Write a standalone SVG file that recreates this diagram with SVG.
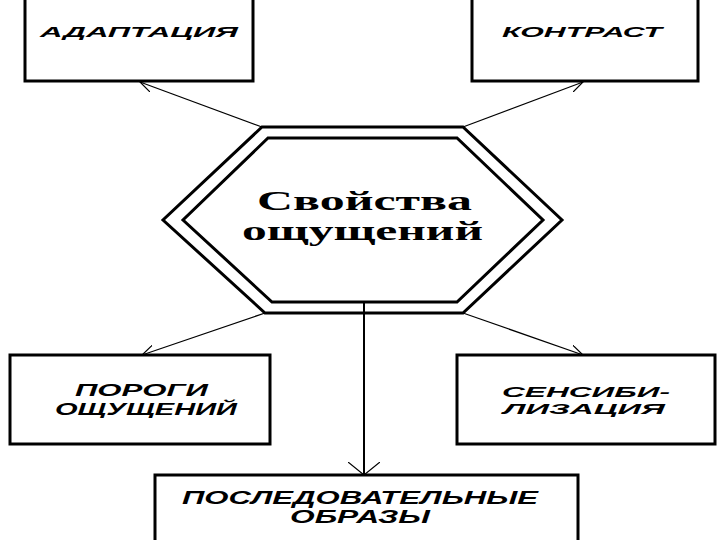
<svg xmlns="http://www.w3.org/2000/svg" width="720" height="540" viewBox="0 0 720 540">
<defs>
<style>
.box{fill:#fff;stroke:#000;stroke-width:3}
.hex{fill:none;stroke:#000;stroke-width:3;stroke-linejoin:miter}
.lbl{font-family:"Liberation Sans",Arial,sans-serif;font-weight:bold;font-style:italic;fill:#000}
.ctr{font-family:"Liberation Serif","Times New Roman",serif;font-weight:bold;fill:#000}
.con{stroke:#000;stroke-width:1.2;fill:none}
</style>
<marker id="ah" viewBox="0 0 14 12" refX="13" refY="6" markerWidth="14" markerHeight="12" markerUnits="userSpaceOnUse" orient="auto">
<path d="M0,0 L13,6 L0,12" fill="none" stroke="#000" stroke-width="1.2"/>
</marker>
<marker id="ahw" viewBox="0 0 14 32" refX="13" refY="16" markerWidth="14" markerHeight="32" markerUnits="userSpaceOnUse" orient="auto">
<path d="M0,0 L13,16 L0,32" fill="none" stroke="#000" stroke-width="1.2"/>
</marker>
</defs>
<rect width="720" height="540" fill="#fff"/>
<g id="connectors">
<line class="con" x1="262" y1="127" x2="140" y2="82" marker-end="url(#ah)"/>
<line class="con" x1="463" y1="127" x2="583" y2="82" marker-end="url(#ah)"/>
<line class="con" x1="265" y1="313" x2="142" y2="355" marker-end="url(#ah)"/>
<line class="con" x1="463" y1="313" x2="583" y2="355" marker-end="url(#ah)"/>
<line x1="364" y1="302" x2="364" y2="475" stroke="#000" stroke-width="2" marker-end="url(#ahw)"/>
</g>
<g id="adaptation">
<rect class="box" x="25" y="-5" width="228" height="86"/>
<text class="lbl" x="40" y="37" font-size="15" textLength="198" lengthAdjust="spacingAndGlyphs">АДАПТАЦИЯ</text>
</g>
<g id="kontrast">
<rect class="box" x="472" y="-5" width="226" height="86"/>
<text class="lbl" x="502" y="37" font-size="15" textLength="160" lengthAdjust="spacingAndGlyphs">КОНТРАСТ</text>
</g>
<g id="center">
<polygon class="hex" points="262,127 463,127 562,220 463,313 265,313 163,220"/>
<polygon class="hex" points="268,138 457,138 543,220 457,302 272,302 183,220"/>
<text class="ctr" x="257" y="210" font-size="27" textLength="215" lengthAdjust="spacingAndGlyphs">Свойства</text>
<text class="ctr" x="242" y="240" font-size="27" textLength="241" lengthAdjust="spacingAndGlyphs">ощущений</text>
</g>
<g id="porogi">
<rect class="box" x="10" y="355" width="260" height="89"/>
<text class="lbl" x="75" y="396" font-size="17" textLength="133" lengthAdjust="spacingAndGlyphs">ПОРОГИ</text>
<text class="lbl" x="55" y="415" font-size="17" textLength="182" lengthAdjust="spacingAndGlyphs">ОЩУЩЕНИЙ</text>
</g>
<g id="sensibilizatsiya">
<rect class="box" x="457" y="355" width="258" height="89"/>
<text class="lbl" x="502" y="397" font-size="15" textLength="168" lengthAdjust="spacingAndGlyphs">СЕНСИБИ-</text>
<text class="lbl" x="503" y="414" font-size="15" textLength="162" lengthAdjust="spacingAndGlyphs">ЛИЗАЦИЯ</text>
</g>
<g id="obrazy">
<rect class="box" x="155" y="475" width="423" height="70"/>
<text class="lbl" x="182" y="504" font-size="18" textLength="356" lengthAdjust="spacingAndGlyphs">ПОСЛЕДОВАТЕЛЬНЫЕ</text>
<text class="lbl" x="290" y="523" font-size="18" textLength="140" lengthAdjust="spacingAndGlyphs">ОБРАЗЫ</text>
</g>
</svg>
